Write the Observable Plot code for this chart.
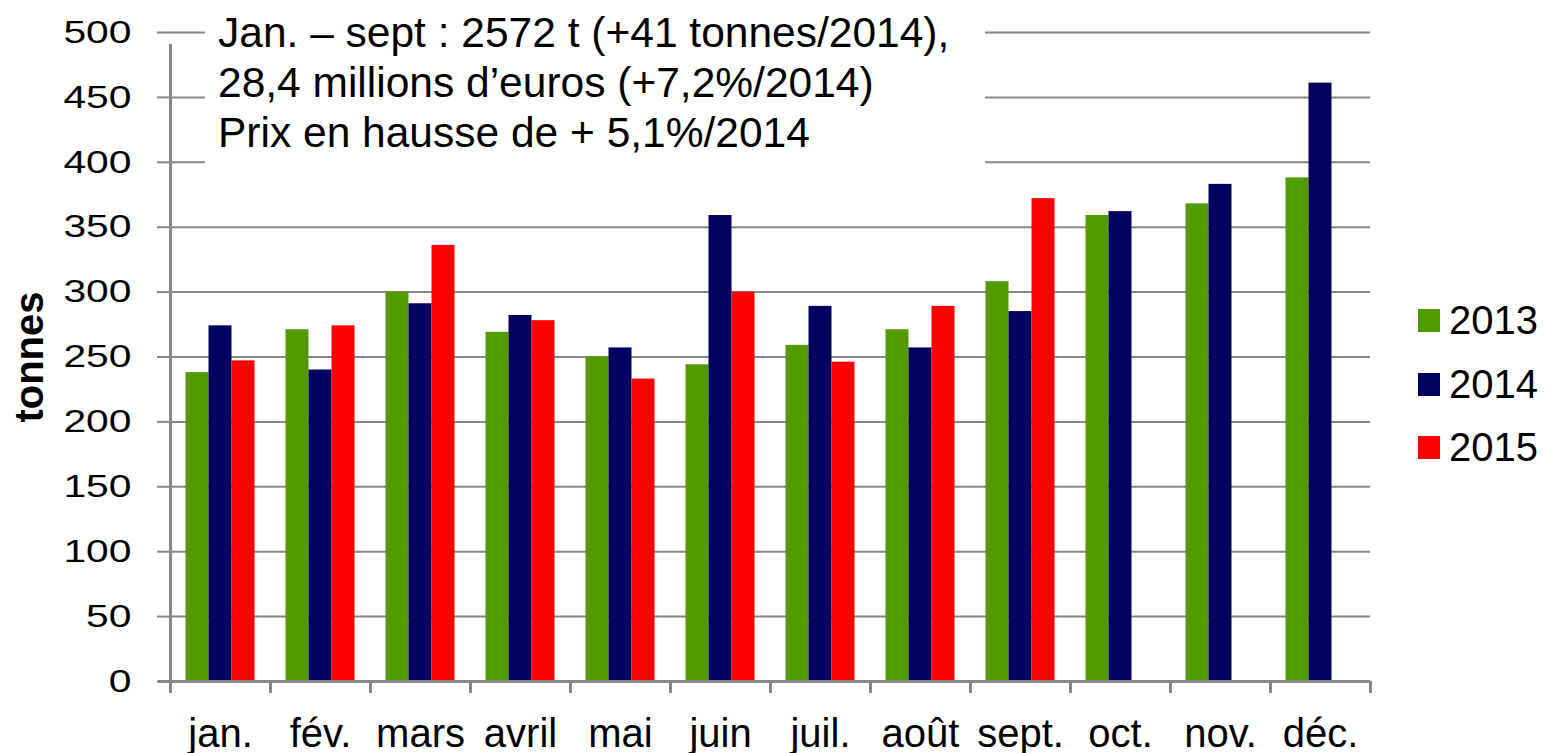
<!DOCTYPE html>
<html>
<head>
<meta charset="utf-8">
<script src="https://cdn.jsdelivr.net/npm/d3@7"></script>
<script src="https://cdn.jsdelivr.net/npm/@observablehq/plot@0.6"></script>
<style>
  html, body { margin: 0; padding: 0; background: #fff; }
  #wrap { position: relative; width: 1546px; height: 753px; font-family: "Liberation Sans", Arial, sans-serif; color: #000; }
  #note { position: absolute; left: 205px; top: 0px; width: 780px; height: 176px; background: #fff;
          padding: 8px 0 0 13px; box-sizing: border-box; font-size: 42.5px; line-height: 50px; white-space: nowrap; }
  #legend { position: absolute; left: 1418px; top: 289px; font-size: 40px; }
  #legend .row { display: flex; align-items: center; height: 63.5px; }
  #legend .sw { width: 22px; height: 23px; margin-right: 9px; }
</style>
</head>
<body>
<div id="wrap"></div>
<script>
const months = ["jan.", "fév.", "mars", "avril", "mai", "juin", "juil.", "août", "sept.", "oct.", "nov.", "déc."];
const years = ["2013", "2014", "2015"];
const v2013 = [238, 271, 300, 269, 250, 244, 259, 271, 308, 359, 368, 388];
const v2014 = [274, 240, 291, 282, 257, 359, 289, 257, 285, 362, 383, 461];
const v2015 = [247, 274, 336, 278, 233, 300, 246, 289, 372];
const colors = ["#519B00", "#000060", "#FF0000"];
const yTicks = [0, 50, 100, 150, 200, 250, 300, 350, 400, 450, 500];
const noteLines = [
  "Jan. – sept : 2572 t (+41 tonnes/2014),",
  "28,4 millions d’euros (+7,2%/2014)",
  "Prix en hausse de + 5,1%/2014"
];

const series = [v2013, v2014, v2015];
const rows = series.map((vals, k) => vals.map((v, i) => ({month: months[i], year: years[k], value: v})));

const barW = 23;
const bandW = 100;
const inset = (bandW - barW) / 2;

const grey = "#888";

const chart = Plot.plot({
  width: 1546,
  height: 753,
  marginLeft: 170,
  marginRight: 176,
  marginTop: 32,
  marginBottom: 72,
  style: {fontFamily: "'Liberation Sans', Arial, sans-serif", background: "#fff", overflow: "visible", color: "#000"},
  x: {domain: months, padding: 0, label: null},
  y: {domain: [0, 500], label: null},
  marks: [
    Plot.gridY(yTicks, {stroke: grey, strokeOpacity: 1, strokeWidth: 2}),
    ...rows.map((data, k) => Plot.barY(data, {
      x: "month", y: "value", fill: colors[k],
      insetLeft: inset, insetRight: inset, dx: (k - 1) * barW
    })),
    Plot.ruleY([0], {stroke: grey, strokeWidth: 3, insetLeft: -12}),
    Plot.ruleX(months, {x: d => d, y1: 0, y2: 0, insetBottom: -12, dx: -bandW / 2, stroke: grey, strokeWidth: 3}),
    Plot.ruleX([months[months.length - 1]], {x: d => d, y1: 0, y2: 0, insetBottom: -12, dx: bandW / 2, stroke: grey, strokeWidth: 3}),
    Plot.ruleX([months[0]], {x: d => d, y1: 0, y2: 500, insetBottom: -12, dx: -bandW / 2, stroke: grey, strokeWidth: 3}),
    Plot.axisY({ticks: yTicks, tickSize: 13, tickPadding: 26, fontSize: 32, stroke: grey, strokeWidth: 2, fill: "#000", dy: 0, label: null}),
    Plot.axisX({tickSize: 0, tickPadding: 37, fontSize: 40, fill: "#000", label: null}),
    Plot.text(["tonnes"], {frameAnchor: "left", textAnchor: "middle", rotate: -90, dx: -140, fontSize: 40, fontWeight: "bold", fill: "#000"})
  ]
});

// widen the y tick labels like the reference's stretched digits
d3.select(chart).selectAll('g[aria-label="y-axis tick label"] text').each(function() {
  const n = this.textContent.length;
  this.setAttribute("textLength", n * 22.7);
  this.setAttribute("lengthAdjust", "spacingAndGlyphs");
});

const wrap = document.getElementById("wrap");
wrap.appendChild(chart);

const note = document.createElement("div");
note.id = "note";
note.innerHTML = noteLines.map(s => `<div>${s}</div>`).join("");
wrap.appendChild(note);

const legend = document.createElement("div");
legend.id = "legend";
legend.innerHTML = years.map((y, k) => `<div class="row"><div class="sw" style="background:${colors[k]}"></div><span>${y}</span></div>`).join("");
wrap.appendChild(legend);
</script>
</body>
</html>
